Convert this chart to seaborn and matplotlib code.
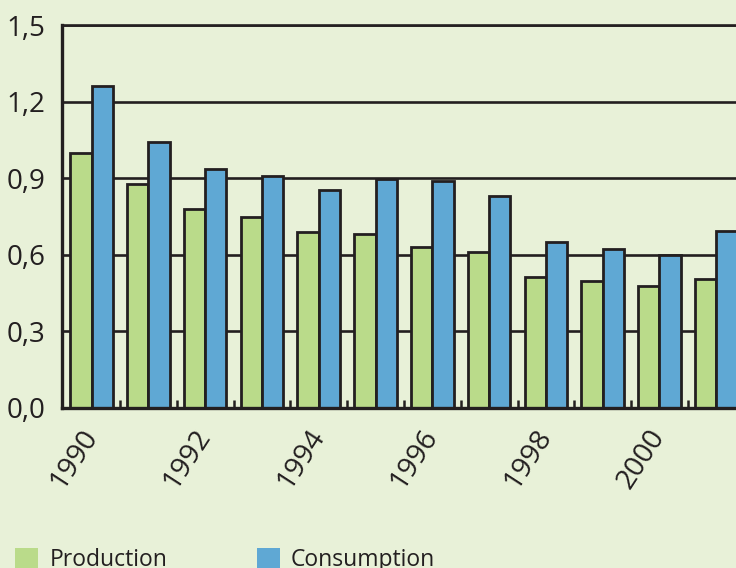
import matplotlib
matplotlib.use("Agg")
import matplotlib.pyplot as plt
import seaborn as sns
import pandas as pd
import numpy as np
from matplotlib.patches import Patch

years = [str(y) for y in range(1990, 2002)]
production = [1.00, 0.877, 0.78, 0.748, 0.69, 0.68, 0.632, 0.612, 0.513, 0.499, 0.478, 0.505]
consumption = [1.26, 1.04, 0.936, 0.909, 0.852, 0.898, 0.89, 0.83, 0.65, 0.623, 0.599, 0.694]
series = ["Production", "Consumption"]
yticks = [0.0, 0.3, 0.6, 0.9, 1.2, 1.5]
ytick_labels = ["0,0", "0,3", "0,6", "0,9", "1,2", "1,5"]
xtick_years = ["1990", "1992", "1994", "1996", "1998", "2000"]

BG = "#e8f1d8"
GREEN = "#badb8a"
BLUE = "#5fa8d4"
INK = "#231f20"

sns.set_style("white")
plt.rcParams["font.family"] = ["Open Sans", "DejaVu Sans"]

df = pd.DataFrame({
    "year": years * 2,
    "value": production + consumption,
    "series": [series[0]] * len(years) + [series[1]] * len(years),
})

fig = plt.figure(figsize=(7.36, 5.68), dpi=100, facecolor=BG)
ax = fig.add_axes([62 / 736, (568 - 408) / 568, 1 - 62 / 736 + 0.001, (408 - 25) / 568])
ax.set_facecolor(BG)

sns.barplot(data=df, x="year", y="value", hue="series", order=years,
            hue_order=series, palette=[GREEN, BLUE], width=0.75,
            edgecolor=INK, linewidth=2.0, saturation=1, ax=ax, legend=False)

ax.set_ylim(0, 1.5)
ax.set_xlim(-0.52, 11.36)
ax.set_yticks(yticks)
ax.set_yticklabels(ytick_labels, fontsize=20, color=INK)
ax.yaxis.grid(True, color=INK, linewidth=1.9)
ax.set_axisbelow(True)

pos = [years.index(y) for y in xtick_years]
ax.set_xticks(pos)
ax.set_xticklabels(xtick_years, fontsize=20.5, color=INK, rotation=57,
                   ha="right", va="center", rotation_mode="anchor")
ax.set_xticks(np.arange(0.5, 11.5, 1.0), minor=True)
ax.tick_params(axis="x", which="major", length=0, pad=17)
ax.tick_params(axis="x", which="minor", direction="in", length=6, width=1.8, color=INK, bottom=True)
ax.tick_params(axis="y", length=0, pad=12)
ax.set_xlabel("")
ax.set_ylabel("")

for s in ["left", "bottom"]:
    ax.spines[s].set_color(INK)
    ax.spines[s].set_linewidth(2.4)
ax.spines["top"].set_color(INK)
ax.spines["top"].set_linewidth(1.9)
ax.spines["right"].set_visible(False)

handles = [Patch(facecolor=GREEN, edgecolor="none"), Patch(facecolor=BLUE, edgecolor="none")]
fig.legend(handles, series, loc="center left", bbox_to_anchor=(15 / 736, (568 - 560) / 568),
           ncol=2, frameon=False, fontsize=16.5, handlelength=1.0, handleheight=1.0,
           handletextpad=0.5, columnspacing=3.9, borderpad=0, borderaxespad=0,
           labelcolor=INK)

fig.savefig("out.png", dpi=100, facecolor=BG)
